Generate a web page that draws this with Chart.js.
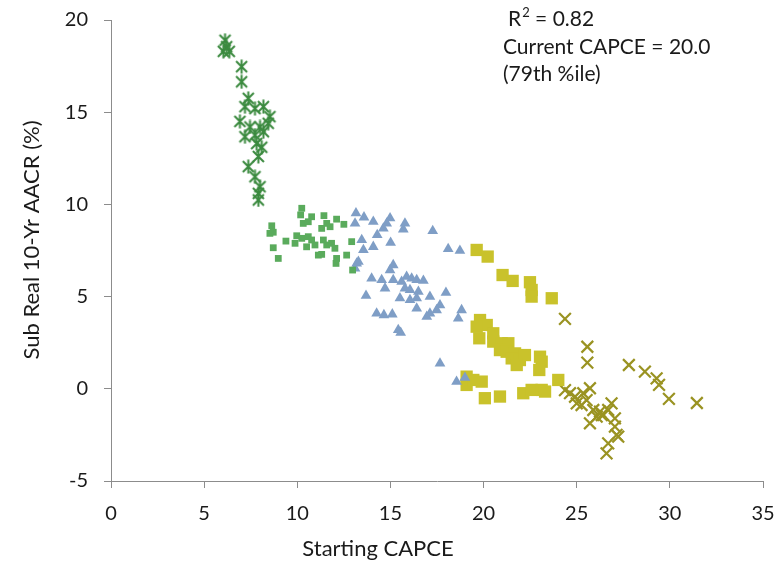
<!DOCTYPE html>
<html>
<head>
<meta charset="utf-8">
<script src="https://cdn.jsdelivr.net/npm/chart.js@4/dist/chart.umd.min.js"></script>
<style>
  html, body { margin: 0; padding: 0; background: #fff; }
  #wrap { width: 784px; height: 562px; }
</style>
</head>
<body>
<div id="wrap"><canvas id="capceChart" width="784" height="562"></canvas></div>
<script>
// period 1 - dark green stars
const p1X = [6.12, 6.03, 6.35, 6.21, 7.01, 7.01, 7.37, 7.19, 7.73, 8.18, 8.53, 8.44, 6.92, 7.46, 8.0, 7.19, 7.73, 8.18, 7.82, 8.09, 7.91, 7.37, 7.73, 8.0, 7.91, 7.91];
const p1Y = [18.9, 18.3, 18.3, 18.55, 17.47, 16.65, 15.75, 15.3, 15.2, 15.3, 14.76, 14.4, 14.5, 14.2, 14.2, 13.67, 13.76, 13.94, 13.3, 13.1, 12.6, 12.05, 11.5, 10.96, 10.6, 10.24];

// period 2 - green small squares
const p2X = [10.24, 10.18, 10.77, 11.43, 12.11, 12.5, 10.32, 10.59, 11.58, 11.76, 11.31, 8.63, 8.71, 8.53, 9.39, 9.88, 9.97, 10.24, 10.59, 10.77, 10.95, 11.4, 11.58, 11.84, 12.02, 12.92, 8.71, 8.98, 11.13, 11.31, 12.11, 12.08, 12.65, 12.97, 10.5];
const p2Y = [9.79, 9.43, 9.33, 9.39, 9.2, 8.92, 8.97, 9.06, 8.97, 8.79, 8.7, 8.84, 8.49, 8.43, 8.01, 7.89, 8.3, 8.16, 8.25, 8.07, 7.8, 8.07, 7.8, 7.89, 7.62, 7.98, 7.65, 7.07, 7.25, 7.29, 7.07, 6.8, 7.25, 6.44, 7.7];

// period 3 - blue triangles
const p3X = [13.15, 13.58, 13.1, 14.08, 14.98, 14.8, 14.62, 15.78, 15.69, 14.29, 17.27, 13.46, 13.55, 14.08, 15.01, 18.1, 18.73, 13.28, 13.1, 15.15, 14.98, 13.99, 14.53, 14.71, 15.15, 15.6, 15.87, 16.14, 16.41, 16.77, 15.78, 16.05, 16.5, 15.51, 16.05, 16.41, 17.12, 17.98, 13.69, 17.66, 17.48, 16.41, 17.12, 16.95, 18.82, 18.64, 14.26, 14.65, 15.1, 15.42, 15.55, 17.66, 18.55, 19.0, 13.19];
const p3Y = [9.52, 9.3, 8.97, 9.06, 9.25, 8.97, 8.7, 8.97, 8.65, 8.34, 8.56, 8.07, 7.53, 7.7, 7.92, 7.58, 7.49, 6.89, 6.53, 6.71, 6.44, 5.99, 5.9, 5.45, 5.9, 5.81, 6.08, 5.99, 5.9, 5.86, 5.45, 5.36, 5.27, 4.91, 4.82, 4.91, 5.0, 5.21, 5.05, 4.54, 4.27, 4.36, 4.09, 3.91, 4.27, 3.82, 4.09, 4.0, 4.04, 3.19, 3.04, 1.38, 0.39, 0.6, 6.8];

// period 4 - yellow squares
const p4X = [19.63, 20.22, 21.02, 21.56, 22.49, 22.58, 22.58, 23.66, 19.81, 20.17, 19.63, 19.77, 20.52, 20.52, 20.97, 21.33, 20.88, 21.24, 21.69, 21.51, 21.95, 22.22, 21.78, 23.03, 23.12, 22.99, 24.01, 19.09, 19.09, 19.45, 19.9, 20.07, 20.88, 22.13, 22.58, 23.12, 23.3];
const p4Y = [7.53, 7.17, 6.17, 5.85, 5.78, 5.36, 5.0, 4.91, 3.73, 3.46, 3.37, 2.74, 3.01, 2.56, 2.47, 2.47, 2.1, 2.01, 1.92, 1.65, 1.56, 1.83, 1.29, 1.74, 1.47, 1.02, 0.48, 0.66, 0.21, 0.48, 0.39, -0.51, -0.42, -0.24, -0.06, -0.06, -0.15];

// period 5 - olive crosses
const p5X = [24.37, 25.57, 25.57, 27.8, 28.66, 29.29, 29.42, 29.95, 31.45, 24.37, 24.64, 24.91, 25.35, 25.71, 25.53, 25.0, 25.26, 25.89, 26.25, 26.42, 26.87, 26.69, 26.07, 25.71, 27.05, 27.05, 27.14, 27.23, 26.69, 26.6, 26.34];
const p5Y = [3.79, 2.28, 1.42, 1.29, 0.93, 0.57, 0.21, -0.55, -0.77, -0.07, -0.24, -0.43, -0.24, 0.03, -0.61, -0.79, -0.88, -1.15, -1.24, -1.42, -0.79, -1.15, -1.51, -1.87, -1.6, -2.05, -2.5, -2.59, -2.96, -3.5, -1.42];

const xTicks = [0, 5, 10, 15, 20, 25, 30, 35];
const yTicks = [-5, 0, 5, 10, 15, 20];
const xTitle = 'Starting CAPCE';
const yTitle = 'Sub Real 10-Yr AACR (%)';
const noteLines = ['R\u00b2 = 0.82', 'Current CAPCE = 20.0', '(79th %ile)'];

const pts = (xs, ys) => xs.map((x, i) => ({ x: x, y: ys[i] }));

const FONT = 'Lato, "Liberation Sans", sans-serif';
const TXT = '#1a1a1a';

// excel style star marker: an x with a vertical bar through it
function starMarker(color) {
  const c = document.createElement('canvas');
  c.width = 15; c.height = 15;
  const g = c.getContext('2d');
  g.strokeStyle = color;
  g.lineWidth = 2;
  g.beginPath();
  g.moveTo(2, 2); g.lineTo(13, 13);
  g.moveTo(13, 2); g.lineTo(2, 13);
  g.moveTo(7.5, 0.5); g.lineTo(7.5, 14.5);
  g.stroke();
  return c;
}

// axis titles (placed like the excel original) and the note box
const textPlugin = {
  id: 'texts',
  afterDraw(chart) {
    const ctx = chart.ctx;
    ctx.save();
    ctx.fillStyle = TXT;
    ctx.font = '22px ' + FONT;
    ctx.textBaseline = 'middle';
    ctx.textAlign = 'center';
    ctx.fillText(xTitle, 378, 549);
    ctx.save();
    ctx.translate(32, 240);
    ctx.rotate(-Math.PI / 2);
    ctx.fillText(yTitle, 0, 0);
    ctx.restore();

    ctx.font = '21px ' + FONT;
    ctx.textAlign = 'left';
    ctx.fillText('R', 508, 19);
    const w = ctx.measureText('R').width;
    ctx.font = '13px ' + FONT;
    ctx.fillText('2', 508 + w + 1, 13);
    const w2 = ctx.measureText('2').width;
    ctx.font = '21px ' + FONT;
    ctx.fillText(' = 0.82', 508 + w + w2 + 1, 19);
    ctx.fillText(noteLines[1], 503, 47);
    ctx.fillText(noteLines[2], 503, 74);
    ctx.restore();
  }
};

const axisCommon = {
  type: 'linear',
  border: { color: '#8c8c8c', width: 1 },
  grid: { drawOnChartArea: false, drawTicks: true, tickLength: 7, color: '#8c8c8c' },
  title: { display: false }
};

new Chart(document.getElementById('capceChart'), {
  type: 'scatter',
  data: {
    datasets: [
      { data: pts(p1X, p1Y), pointStyle: starMarker('#3b8a3f'), radius: 7, borderWidth: 0, borderColor: '#3b8a3f', backgroundColor: '#3b8a3f' },
      { data: pts(p2X, p2Y), pointStyle: 'rect', radius: 4.8, borderWidth: 0, borderColor: '#5aab5c', backgroundColor: '#5aab5c' },
      { data: pts(p3X, p3Y), pointStyle: 'triangle', radius: 6.2, borderWidth: 0, borderColor: '#7f9ec6', backgroundColor: '#7f9ec6' },
      { data: pts(p4X, p4Y), pointStyle: 'rect', radius: 8.7, borderWidth: 0, borderColor: '#c9c22b', backgroundColor: '#c9c22b' },
      { data: pts(p5X, p5Y), pointStyle: 'crossRot', radius: 8.3, borderWidth: 2.2, borderColor: '#9a9322', backgroundColor: '#9a9322' }
    ]
  },
  options: {
    responsive: false,
    animation: false,
    layout: { autoPadding: false, padding: { left: 0, right: 21, top: 20, bottom: 0 } },
    plugins: { legend: { display: false }, tooltip: { enabled: false } },
    scales: {
      x: {
        ...axisCommon,
        min: 0, max: 35,
        afterBuildTicks: s => { s.ticks = xTicks.map(v => ({ value: v })); },
        afterFit: s => { s.height = 81; s.paddingLeft = 0; s.paddingRight = 0; },
        ticks: { color: TXT, font: { family: FONT, size: 20 }, padding: 14 }
      },
      y: {
        ...axisCommon,
        min: -5, max: 20,
        afterBuildTicks: s => { s.ticks = yTicks.map(v => ({ value: v })); },
        afterFit: s => { s.width = 111; s.paddingTop = 0; s.paddingBottom = 0; },
        ticks: { color: TXT, font: { family: FONT, size: 20 }, padding: 16 }
      }
    }
  },
  plugins: [textPlugin]
});
</script>
</body>
</html>
